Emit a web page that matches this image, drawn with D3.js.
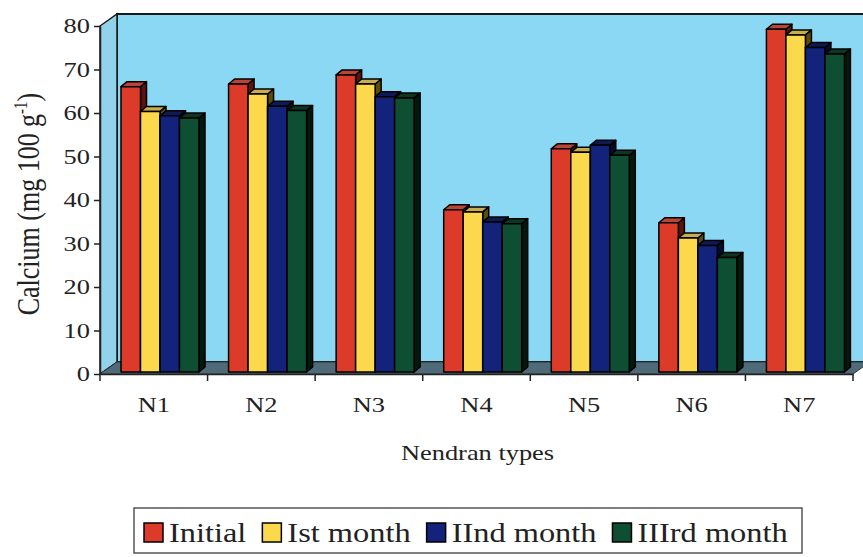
<!DOCTYPE html>
<html lang="en">
<head>
<meta charset="UTF-8">
<title>Calcium - Nendran types</title>
<script src="https://d3js.org/d3.v7.min.js"></script>
<style>
  body { margin: 0; background: #fff; }
  text { font-family: "Liberation Serif", "Times New Roman", Times, serif; }
</style>
</head>
<body>
<svg id="chart" width="863" height="557"></svg>
<script>
  // data
  const categories = ["N1", "N2", "N3", "N4", "N5", "N6", "N7"];
  const seriesNames = ["Initial", "Ist month", "IInd month", "IIIrd month"];
  const initial = [65.6, 66.2, 68.3, 37.3, 51.3, 34.3, 78.8];
  const month1 = [59.9, 63.9, 66.2, 36.8, 50.5, 30.8, 77.5];
  const month2 = [58.9, 61.1, 63.3, 34.5, 52.1, 29.1, 74.6];
  const month3 = [58.4, 60.1, 63.0, 34.1, 49.8, 26.3, 73.1];
  const yTicks = [0, 10, 20, 30, 40, 50, 60, 70, 80];

  const seriesValues = [initial, month1, month2, month3];
  const front = ["#dc3b2a", "#fbd84c", "#13237c", "#0e4f33"];
  const topCol = ["#b94536", "#c9ad4c", "#0e1a55", "#0b3624"];
  const sideCol = ["#5e140c", "#5c4c0c", "#050b2e", "#03190e"];

  const svg = d3.select("#chart");
  const stretch = 1.2; // the picture's text is a bit wide
  const textCol = "#222";

  const left = 100, right = 853, depthX = 17, depthY = 12;
  const y = d3.scaleLinear().domain([0, 80]).range([374, 26]);
  const x = d3.scaleBand().domain(categories).range([left, right]);
  const xs = d3.scaleBand().domain(seriesNames).range([21, 21 + 78]);

  // back wall
  svg.append("rect")
    .attr("x", left + depthX).attr("y", y(80) - depthY)
    .attr("width", 870 - left - depthX).attr("height", y(0) - y(80))
    .attr("fill", "#8bd8f4").attr("stroke", "#1a1a1a").attr("stroke-width", 2);

  // left wall
  svg.append("polygon")
    .attr("points", [[left, y(80)], [left + depthX, y(80) - depthY], [left + depthX, y(0) - depthY], [left, y(0)]].join(" "))
    .attr("fill", "#90d3ea").attr("stroke", "#1a1a1a").attr("stroke-width", 1.5);

  // floor
  svg.append("polygon")
    .attr("points", [[left, y(0)], [left + depthX, y(0) - depthY], [right + depthX, y(0) - depthY], [right, y(0)]].join(" "))
    .attr("fill", "#4f6a79").attr("stroke", "#333").attr("stroke-width", 1);

  // bars, left to right so each one covers the side of the previous
  const bdx = 6, bdy = 5;
  categories.forEach((c, i) => {
    seriesNames.forEach((s, j) => {
      const v = seriesValues[j][i];
      const x0 = x(c) + xs(s), w = xs.bandwidth();
      const top = y(v) - 2, bot = y(0) - 2;
      const g = svg.append("g").attr("stroke", "#000").attr("stroke-width", 1.5).attr("stroke-linejoin", "round");
      g.append("polygon")
        .attr("points", [[x0 + w, top], [x0 + w + bdx, top - bdy], [x0 + w + bdx, bot - bdy], [x0 + w, bot]].join(" "))
        .attr("fill", sideCol[j]);
      g.append("polygon")
        .attr("points", [[x0, top], [x0 + bdx, top - bdy], [x0 + w + bdx, top - bdy], [x0 + w, top]].join(" "))
        .attr("fill", topCol[j]);
      g.append("rect")
        .attr("x", x0).attr("y", top).attr("width", w).attr("height", bot - top)
        .attr("fill", front[j]);
    });
  });

  // y axis
  const yAxis = svg.append("g").attr("transform", `translate(${left},0)`)
    .call(d3.axisLeft(y).tickValues(yTicks).tickSize(6).tickSizeOuter(0).tickFormat(""));
  yAxis.selectAll("line, path").attr("stroke", "#222").attr("stroke-width", 1.5);
  svg.selectAll(".ytick").data(yTicks).enter().append("text")
    .attr("class", "ytick")
    .attr("transform", d => `translate(90,${y(d) + 7}) scale(${stretch},1)`)
    .attr("text-anchor", "end")
    .style("font-size", "22px")
    .attr("fill", textCol)
    .text(d => d);

  // x axis
  const xAxis = svg.append("g").attr("transform", `translate(0,${y(0)})`)
    .call(d3.axisBottom(x).tickSize(0).tickSizeOuter(0).tickFormat(""));
  xAxis.selectAll("path").attr("stroke", "#222").attr("stroke-width", 1.5);
  svg.selectAll(".xsep").data(d3.range(categories.length + 1)).enter().append("line")
    .attr("x1", d => left + d * x.step()).attr("x2", d => left + d * x.step())
    .attr("y1", y(0)).attr("y2", y(0) + 7)
    .attr("stroke", "#222").attr("stroke-width", 1.5);
  svg.selectAll(".xlab").data(categories).enter().append("text")
    .attr("transform", d => `translate(${x(d) + x.bandwidth() / 2},412) scale(${stretch},1)`)
    .attr("text-anchor", "middle")
    .style("font-size", "22px")
    .attr("fill", textCol)
    .text(d => d);

  svg.append("text")
    .attr("transform", `translate(${(left + right) / 2 + 1},460) scale(${stretch},1)`)
    .attr("text-anchor", "middle")
    .style("font-size", "22px")
    .attr("fill", textCol)
    .text("Nendran types");

  // y title with superscript
  const yt = svg.append("text")
    .attr("transform", `translate(39,204) scale(${stretch},1) rotate(-90)`)
    .attr("text-anchor", "middle")
    .style("font-size", "26px")
    .attr("fill", textCol);
  yt.append("tspan").text("Calcium (mg 100 g");
  yt.append("tspan").attr("dy", -10).style("font-size", "15px").text("-1");
  yt.append("tspan").attr("dy", 10).text(")");

  // legend
  const leg = svg.append("g");
  leg.append("rect")
    .attr("x", 134).attr("y", 508).attr("width", 668).attr("height", 45)
    .attr("fill", "#fff").attr("stroke", "#555").attr("stroke-width", 1.5);
  let lx = 144;
  seriesNames.forEach((s, j) => {
    leg.append("rect")
      .attr("x", lx).attr("y", 523).attr("width", 19).attr("height", 19)
      .attr("fill", front[j]).attr("stroke", "#000").attr("stroke-width", 1.5);
    const t = leg.append("text")
      .attr("transform", `translate(${lx + 25},542) scale(${stretch},1)`)
      .style("font-size", "27px")
      .attr("fill", textCol)
      .text(s);
    lx += 25 + t.node().getComputedTextLength() * stretch + 16;
  });
</script>
</body>
</html>
